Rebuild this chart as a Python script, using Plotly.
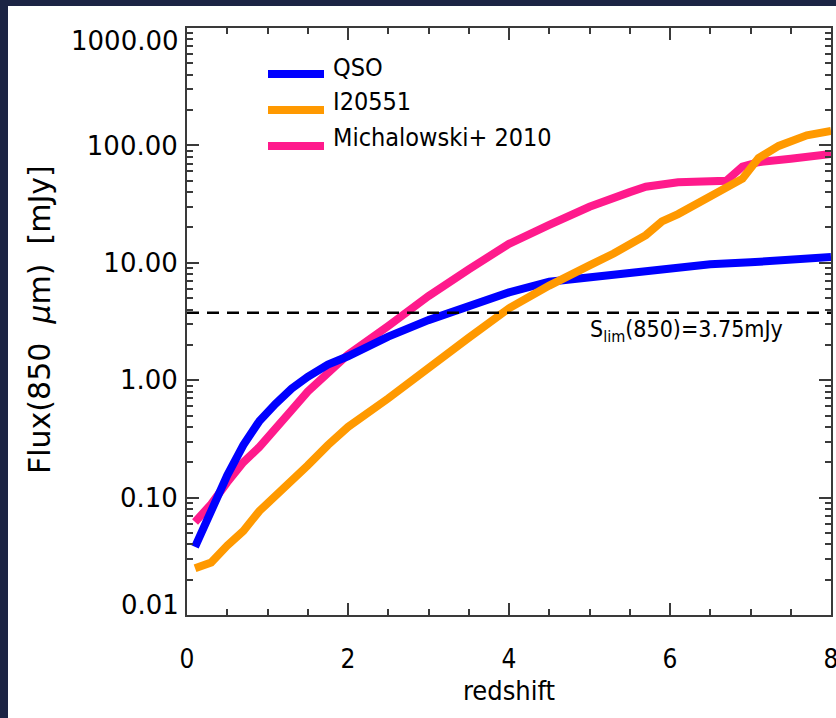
import plotly.graph_objects as go

# ---------------- data ----------------
qso_z = [0.1, 0.3, 0.5, 0.7, 0.9, 1.1, 1.3, 1.5, 1.75, 2.0, 2.5, 3.0, 3.5, 4.0, 4.5, 5.0, 5.5, 6.0, 6.5, 7.0, 7.5, 8.0]
qso_flux = [0.038, 0.078, 0.155, 0.28, 0.45, 0.63, 0.85, 1.07, 1.36, 1.6, 2.35, 3.25, 4.3, 5.6, 6.9, 7.5, 8.3, 8.9, 9.7, 10.1, 10.6, 11.2]

i20551_z = [0.1, 0.3, 0.5, 0.7, 0.9, 1.2, 1.5, 1.75, 2.0, 2.5, 3.0, 3.5, 4.0, 4.5, 5.0, 5.3, 5.7, 5.9, 6.1, 6.5, 6.9, 7.1, 7.35, 7.7, 8.0]
i20551_flux = [0.025, 0.028, 0.039, 0.052, 0.077, 0.119, 0.188, 0.28, 0.40, 0.70, 1.3, 2.3, 4.1, 6.4, 9.5, 12.0, 17.2, 22.5, 26.0, 36.0, 52.0, 78.0, 99.0, 122.0, 133.0]

mich_z = [0.1, 0.3, 0.5, 0.7, 0.9, 1.1, 1.3, 1.5, 1.75, 2.0, 2.5, 3.0, 3.5, 4.0, 4.5, 5.0, 5.5, 5.7, 6.1, 6.7, 6.9, 7.1, 7.5, 8.0]
mich_flux = [0.062, 0.088, 0.135, 0.2, 0.27, 0.38, 0.555, 0.8, 1.18, 1.65, 2.9, 5.2, 8.8, 14.5, 21.0, 30.0, 40.0, 44.5, 48.5, 50.0, 66.0, 72.0, 77.0, 84.5]

series_names = ["QSO", "I20551", "Michalowski+ 2010"]
series_colors = ["#0000ff", "#ff9900", "#ff1a8c"]

flux_limit = 3.75
limit_label = "S<sub>lim</sub>(850)=3.75mJy"

x_range = [0, 8]
x_tick_values = [0, 2, 4, 6, 8]
x_tick_labels = ["0", "2", "4", "6", "8"]
y_tick_values = [0.01, 0.1, 1, 10, 100, 1000]
y_tick_labels = ["0.01", "0.10", "1.00", "10.00", "100.00", "1000.00"]

x_title = "redshift"
y_title = "Flux(850  <i>μ</i>m)  [mJy]"

# ---------------- layout helpers ----------------
W_PX, H_PX = 836, 718
L, R, T, B = 187, 831, 28, 615
PW, PH = R - L, B - T


def px(x):
    return (x - L) / PW


def py(y):
    return (B - y) / PH


NAVY = "#1c2444"
AX = "#3a3a3a"
COND = "DejaVu Sans Condensed, Liberation Sans Narrow, sans-serif"
WIDE = "DejaVu Sans, sans-serif"

fig = go.Figure()

data = {
    "QSO": (qso_z, qso_flux),
    "I20551": (i20551_z, i20551_flux),
    "Michalowski+ 2010": (mich_z, mich_flux),
}
# draw order: pink bottom, blue, orange on top
for name in ["Michalowski+ 2010", "QSO", "I20551"]:
    i = series_names.index(name)
    zz, ff = data[name]
    fig.add_trace(go.Scatter(x=zz, y=ff, mode="lines", name=name,
                             line=dict(color=series_colors[i], width=8),
                             showlegend=False))

fig.add_trace(go.Scatter(x=x_range, y=[flux_limit, flux_limit], mode="lines",
                         line=dict(color="black", width=2.5, dash="12px,8px"),
                         showlegend=False))

minor_y = [k * 10.0 ** e for e in range(-2, 3) for k in range(2, 10)]

fig.update_xaxes(range=x_range, tickvals=x_tick_values, ticktext=x_tick_labels,
                 ticks="inside", ticklen=12, tickwidth=1.5, tickcolor=AX,
                 showline=True, linecolor=AX, linewidth=2, mirror="ticks",
                 showgrid=False, zeroline=False, ticklabeloverflow="allow",
                 minor=dict(dtick=0.5, ticks="inside", ticklen=6, tickcolor=AX, tickwidth=1.5, showgrid=False),
                 tickfont=dict(family=COND, size=26, color="black"),
                 ticklabelstandoff=20,
                 title=dict(text=x_title, font=dict(family=COND, size=27, color="black"), standoff=8))

mid_vals = y_tick_values[1:-1]
mid_text = y_tick_labels[1:-1]
fig.update_yaxes(type="log", range=[-2, 3], tickvals=mid_vals, ticktext=mid_text,
                 ticks="inside", ticklen=12, tickwidth=1.5, tickcolor=AX,
                 showline=True, linecolor=AX, linewidth=2, mirror="ticks",
                 showgrid=False, zeroline=False,
                 minor=dict(tickvals=minor_y, ticks="inside", ticklen=6, tickcolor=AX, tickwidth=1.5, showgrid=False),
                 tickfont=dict(family=WIDE, size=26, color="black"),
                 ticklabelstandoff=2)

annotations = []
# end labels of the y axis, offset inward like the original
annotations.append(dict(text=y_tick_labels[-1], xref="paper", yref="paper", x=px(181), y=py(41),
                        xanchor="right", yanchor="middle", showarrow=False,
                        font=dict(family=WIDE, size=26, color="black")))
annotations.append(dict(text=y_tick_labels[0], xref="paper", yref="paper", x=px(181), y=py(605),
                        xanchor="right", yanchor="middle", showarrow=False,
                        font=dict(family=WIDE, size=26, color="black")))
# y title
annotations.append(dict(text=y_title, xref="paper", yref="paper", x=px(39), y=py(320),
                        xanchor="center", yanchor="middle", textangle=-90, showarrow=False,
                        font=dict(family=WIDE, size=30, color="black")))
# limit label
annotations.append(dict(text=limit_label, xref="paper", yref="paper", x=px(588), y=py(331),
                        xanchor="left", yanchor="middle", showarrow=False,
                        font=dict(family=COND, size=23, color="black")))

shapes = []
# white slide panel over the navy background
shapes.append(dict(type="rect", xref="paper", yref="paper", x0=px(8), x1=px(850),
                   y0=py(730), y1=py(6), fillcolor="white", line=dict(width=0), layer="below"))

# manual legend
leg_line_y = [74, 110, 146]
leg_text_y = [67, 102, 137]
for i, name in enumerate(series_names):
    shapes.append(dict(type="line", xref="paper", yref="paper", x0=px(268), x1=px(324),
                       y0=py(leg_line_y[i]), y1=py(leg_line_y[i]),
                       line=dict(color=series_colors[i], width=8)))
    annotations.append(dict(text=name, xref="paper", yref="paper", x=px(331), y=py(leg_text_y[i]),
                            xanchor="left", yanchor="middle", showarrow=False,
                            font=dict(family=COND, size=25, color="black")))

fig.update_layout(width=W_PX, height=H_PX,
                  margin=dict(l=L, r=W_PX - R, t=T, b=H_PX - B, autoexpand=False),
                  paper_bgcolor=NAVY, plot_bgcolor="white",
                  showlegend=False, annotations=annotations, shapes=shapes)

fig.write_html("out.html")
